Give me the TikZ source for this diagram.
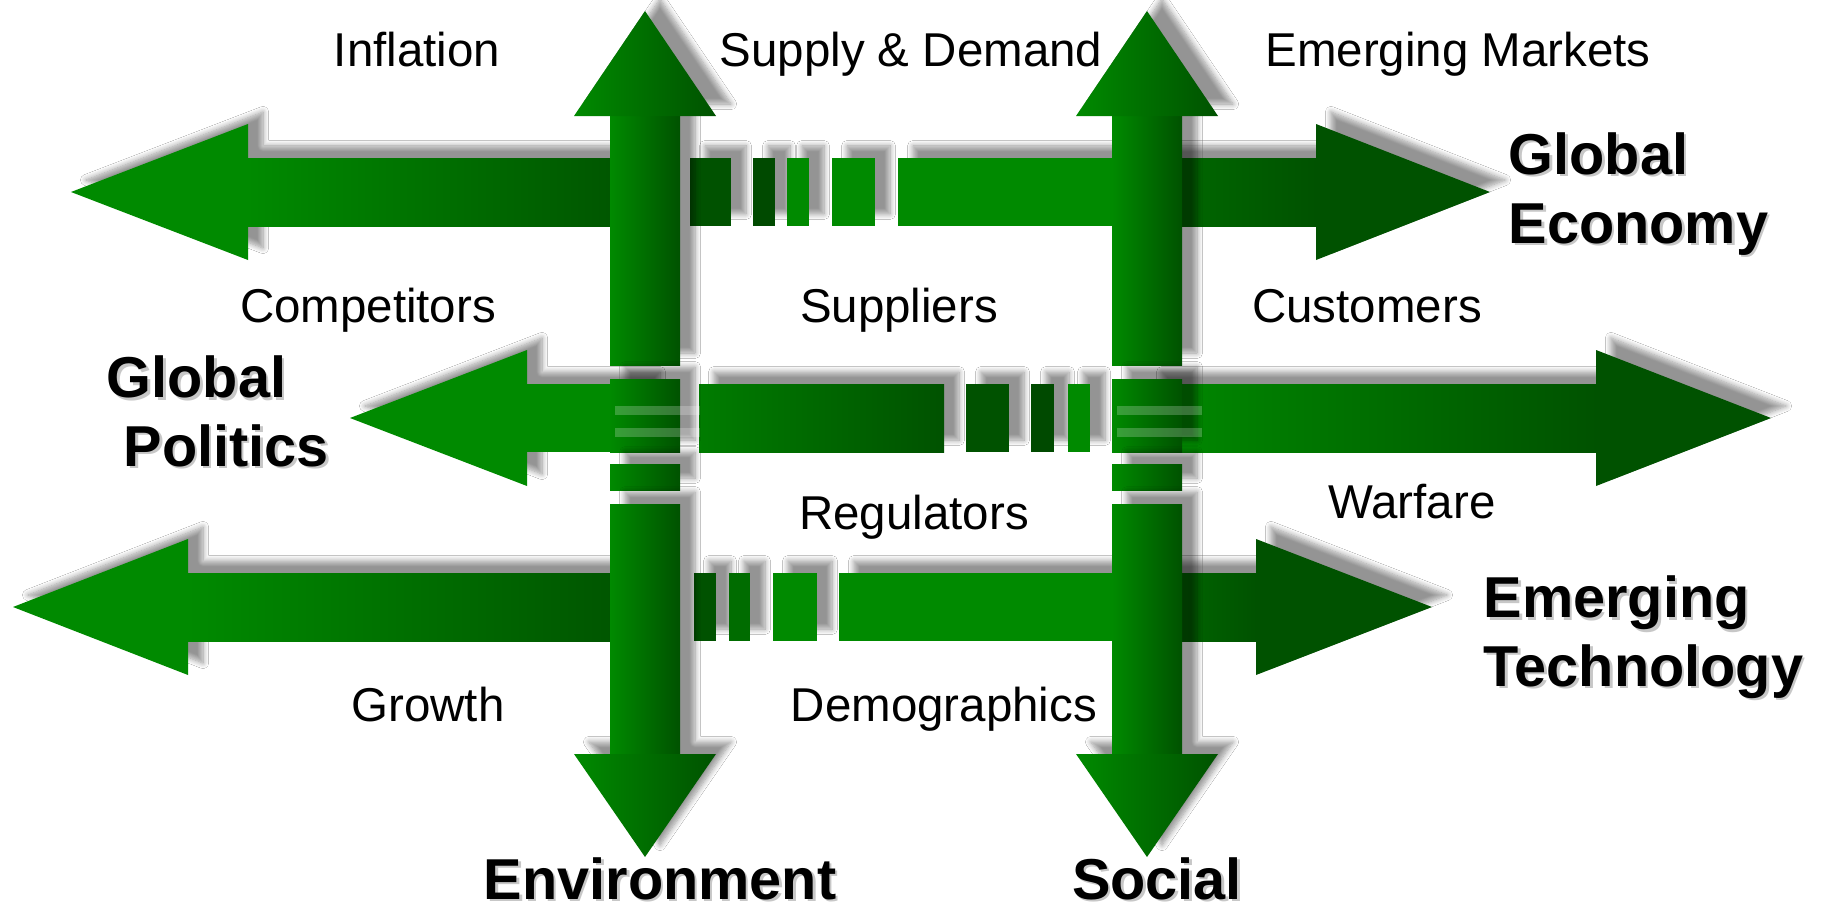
\documentclass[tikz,border=0pt]{standalone}
\usepackage{fontspec}
\setmainfont{Liberation Sans}
\usetikzlibrary{shadows.blur}
\definecolor{cbright}{HTML}{008A00}
\definecolor{cmid}{HTML}{006C00}
\definecolor{cdark}{HTML}{005200}
\definecolor{cdeep}{HTML}{004A00}
\newcommand{\dropshade}[1]{\rlap{\kern0.025cm\raisebox{-0.025cm}{\textcolor{black!22}{#1}}}#1}
\tikzset{
  shadowed/.style={blur shadow={shadow xshift=0.15cm, shadow yshift=0.12cm,
      shadow blur radius=0.055cm, shadow blur steps=8, shadow opacity=42}},
  vshade/.style={left color=cbright, right color=cdark},
  lbl/.style={font=\fontsize{13.5}{16}\selectfont, anchor=base, inner sep=0pt},
  theme/.style={font=\fontsize{16.4}{19.6}\selectfont\bfseries, inner sep=0pt},
}

\begin{document}
\begin{tikzpicture}[x=0.01cm, y=-0.01cm]
  \fill[white] (0,0) rectangle (1830,912);
  \useasboundingbox (0,0) rectangle (1830,912);

  % global economy band
  \path[shadowed] (71,192) -- (248,124) -- (248,158) -- (645,158) -- (645,226) -- (248,226) -- (248,260) -- cycle;
  \fill[cbright] (71,192) -- (248,124) -- (248,260) -- cycle;
  \shade[left color=cbright, right color=cdark] (247,158) rectangle (645,226);
  \foreach \a/\b/\c in {690/731/cdark, 753/775/cdeep, 787/809/cbright, 832/875/cbright}
    \fill[shadowed, \c] (\a,158) rectangle (\b,226);
  \path[shadowed] (898,158) -- (1316,158) -- (1316,124) -- (1490,192) -- (1316,260) -- (1316,226) -- (898,226) -- cycle;
  \fill[cbright] (898,158) rectangle (1148,226);
  \shade[left color=cmid, right color=cdark] (1147,158) rectangle (1317,226);
  \fill[cdark] (1316,124) -- (1490,192) -- (1316,260) -- cycle;

  % global politics band
  \path[shadowed] (350,418) -- (527,350) -- (527,384) -- (645,384) -- (645,452) -- (527,452) -- (527,486) -- cycle;
  \fill[cbright] (350,418) -- (527,350) -- (527,486) -- cycle;
  \fill[cbright] (526,384) rectangle (645,452);
  \shade[shadowed, left color=cbright!75!cdark, right color=cdark] (699,384) rectangle (944,452);
  \foreach \a/\b/\c in {966/1009/cdark, 1031/1054/cdeep, 1068/1090/cbright}
    \fill[shadowed, \c] (\a,384) rectangle (\b,452);
  \path[shadowed] (1147,384) -- (1596,384) -- (1596,350) -- (1771,418) -- (1596,486) -- (1596,452) -- (1147,452) -- cycle;
  \shade[left color=cbright, right color=cdark] (1147,384) rectangle (1597,452);
  \fill[cdark] (1596,350) -- (1771,418) -- (1596,486) -- cycle;

  % emerging technology band
  \path[shadowed] (13,607) -- (188,539) -- (188,573) -- (645,573) -- (645,641) -- (188,641) -- (188,675) -- cycle;
  \fill[cbright] (13,607) -- (188,539) -- (188,675) -- cycle;
  \shade[left color=cbright, right color=cdark] (187,573) rectangle (645,641);
  \foreach \a/\b/\c in {694/716/cdark, 729/750/cmid, 773/817/cbright}
    \fill[shadowed, \c] (\a,573) rectangle (\b,641);
  \path[shadowed] (839,573) -- (1256,573) -- (1256,539) -- (1432,607) -- (1256,675) -- (1256,641) -- (839,641) -- cycle;
  \fill[cbright] (839,573) rectangle (1148,641);
  \shade[left color=cmid, right color=cdark] (1147,573) rectangle (1257,641);
  \fill[cdark] (1256,539) -- (1432,607) -- (1256,675) -- cycle;

  % environment and social
  \foreach \cx in {645,1147} {
    \path[shadowed] (\cx,11) -- (\cx+71,116) -- (\cx+35,116) -- (\cx+35,365) -- (\cx-35,365) -- (\cx-35,116) -- (\cx-71,116) -- cycle;
    \shade[vshade] (\cx-35,115) rectangle (\cx+35,365);
    \shade[vshade] (\cx,11) -- (\cx+71,116) -- (\cx-71,116) -- cycle;
    \foreach \t/\b in {379/452, 464/490}
      \shade[shadowed, vshade] (\cx-35,\t) rectangle (\cx+35,\b);
    \path[shadowed] (\cx-35,504) -- (\cx+35,504) -- (\cx+35,754) -- (\cx+71,754) -- (\cx,857) -- (\cx-71,754) -- (\cx-35,754) -- cycle;
    \shade[vshade] (\cx-35,504) rectangle (\cx+35,755);
    \shade[vshade] (\cx-71,754) -- (\cx+71,754) -- (\cx,857) -- cycle;
    \foreach \y in {406,428}
      \fill[white, opacity=0.22] (\cx-30,\y) rectangle (\cx+55,\y+9);
  }

  \node[lbl] (inflation) at (417,66) {Inflation};
  \node[lbl] (supply) at (911,66) {Supply \& Demand};
  \node[lbl] (markets) at (1458,66) {Emerging Markets};
  \node[lbl] (competitors) at (368,322) {Competitors};
  \node[lbl] (suppliers) at (899,322) {Suppliers};
  \node[lbl] (customers) at (1367,322) {Customers};
  \node[lbl] (regulators) at (914,529) {Regulators};
  \node[lbl] (warfare) at (1412,518) {Warfare};
  \node[lbl] (growth) at (428,721) {Growth};
  \node[lbl] (demographics) at (944,721) {Demographics};

  \node[theme, anchor=north west, align=left] (economy) at (1508,132) {\dropshade{Global}\\\dropshade{Economy}};
  \node[theme, anchor=north west, align=left] (politics) at (106,355) {\dropshade{Global}\\\hspace*{0.17cm}\dropshade{Politics}};
  \node[theme, anchor=north west, align=left] (technology) at (1483,575) {\dropshade{Emerging}\\\dropshade{Technology}};
  \node[theme, anchor=base] (environment) at (660,899) {\dropshade{Environment}};
  \node[theme, anchor=base] (social) at (1157,899) {\dropshade{Social}};
\end{tikzpicture}
\end{document}
